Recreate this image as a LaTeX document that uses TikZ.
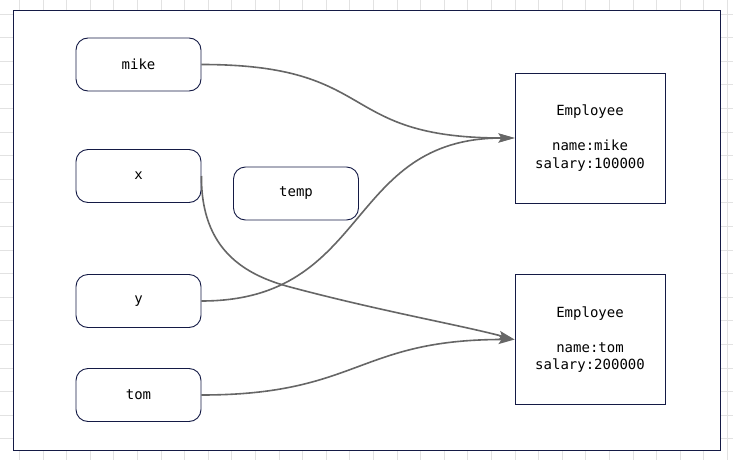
\documentclass[tikz,border=0pt]{standalone}
\usepackage{fontspec}
\setmonofont{DejaVu Sans Mono}
\usetikzlibrary{arrows.meta}
\definecolor{navy}{HTML}{141A45}
\definecolor{wire}{HTML}{666666}
\definecolor{gridc}{HTML}{E2E2E2}
\begin{document}
\begin{tikzpicture}[x=1pt,y=-1pt,
  label font/.style={font=\ttfamily\fontsize{14}{17.5}\selectfont},
  var/.style={draw=navy, line width=0.9pt, rounded corners=12pt, fill=white,
    minimum width=125pt, minimum height=53pt, inner sep=0pt, label font},
  obj/.style={draw=navy, line width=0.9pt, fill=white, align=center,
    minimum width=150pt, minimum height=130pt, inner sep=0pt, label font},
  link/.style={draw=wire, line width=1.6pt,
    -{Stealth[length=16pt,width=9pt,inset=3pt]}}]

\useasboundingbox (0,0) rectangle (733,460);
\fill[white] (0,0) rectangle (733,460);

% background grid
\foreach \i in {0,...,30}
  \draw[gridc, line width=0.8pt] ({19.3+23.6*\i},0) -- ++(0,460);
\foreach \j in {0,...,19}
  \draw[gridc, line width=0.8pt] (0,{14+23.6*\j}) -- ++(733,0);

% outer frame
\node[draw=navy, fill=white, line width=1pt, minimum width=707pt,
      minimum height=439pt, inner sep=0pt] (frame) at (366.5,230.5) {};

% reference variables
\node[var] (mike) at (138.5,64.5) {mike};
\node[var] (x)    at (138.5,176)  {x};
\node[var] (temp) at (296,193.5)  {temp};
\node[var] (y)    at (138.5,301)  {y};
\node[var] (tom)  at (138.5,395)  {tom};

% objects
\node[obj] (e1) at (590,138)   {Employee\\ \\ name:mike\\ salary:100000};
\node[obj] (e2) at (590,339.5) {Employee\\ \\ name:tom\\ salary:200000};

% references
\draw[link] (mike.east) .. controls +(180,0) and +(-180,0) .. (e1.west);
\draw[link] (y.east) .. controls +(170,0) and +(-170,0) .. (e1.west);
\draw[link] (x.east) .. controls (201,250) and (245,275) .. (290,287)
            .. controls (380,311) and (460,325) .. (e2.west);
\draw[link] (tom.east) .. controls +(157,0) and +(-157,0) .. (e2.west);
\end{tikzpicture}
\end{document}
